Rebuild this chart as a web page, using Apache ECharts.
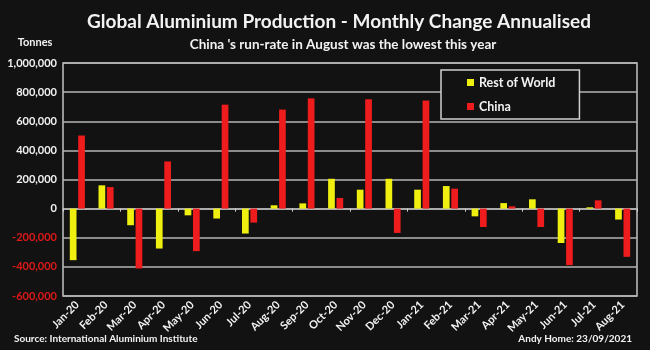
<!DOCTYPE html>
<html><head><meta charset="utf-8">
<script src="https://cdn.jsdelivr.net/npm/echarts@6/dist/echarts.min.js"></script>
<style>html,body{margin:0;padding:0;background:#121212}#c{width:650px;height:350px}</style>
</head><body><div id="c"></div>
<script>
const categories = ['Jan-20','Feb-20','Mar-20','Apr-20','May-20','Jun-20','Jul-20','Aug-20','Sep-20','Oct-20','Nov-20','Dec-20','Jan-21','Feb-21','Mar-21','Apr-21','May-21','Jun-21','Jul-21','Aug-21'];
const restOfWorld = [-354000, 160000, -114000, -274000, -46000, -68000, -171000, 23000, 36000, 205000, 130000, 205000, 130000, 155000, -53000, 38000, 64000, -236000, 9000, -75000];
const china = [502000, 148000, -411000, 324000, -292000, 714000, -96000, 680000, 757000, 73000, 751000, -167000, 742000, 137000, -126000, 16000, -126000, -388000, 57000, -331000];
const yMin = -600000, yMax = 1000000, yStep = 200000;
const titleText = 'Global Aluminium Production - Monthly Change Annualised';
const subtitleText = "China 's run-rate in August was the lowest this year";
const unitText = 'Tonnes';
const sourceText = 'Source: International Aluminium Institute';
const creditText = 'Andy Home: 23/09/2021';

const FF = 'Lato, "Open Sans", sans-serif';
const chart = echarts.init(document.getElementById('c'));
const fmt = v => {
  const s = Math.abs(v).toLocaleString('en-US');
  return v < 0 ? '{neg|-' + s + '}' : '{pos|' + s + '}';
};
chart.setOption({
  backgroundColor: '#121212',
  animation: false,
  textStyle: { fontFamily: FF },
  graphic: [
    { type: 'text', x: 339, y: 22, style: { text: titleText, fill: '#f2f2f2', font: 'bold 19px ' + FF, textAlign: 'center', textVerticalAlign: 'middle' } },
    { type: 'text', x: 343, y: 45, style: { text: subtitleText, fill: '#f2f2f2', font: 'bold 13.5px ' + FF, textAlign: 'center', textVerticalAlign: 'middle' } },
    { type: 'text', x: 35, y: 42, style: { text: unitText, fill: '#f2f2f2', font: 'bold 11px ' + FF, textAlign: 'center', textVerticalAlign: 'middle' } },
    { type: 'text', x: 14, y: 339, style: { text: sourceText, fill: '#f2f2f2', font: 'bold 10px ' + FF, textAlign: 'left', textVerticalAlign: 'middle' } },
    { type: 'text', x: 632, y: 339, style: { text: creditText, fill: '#f2f2f2', font: 'bold 10px ' + FF, textAlign: 'right', textVerticalAlign: 'middle' } }
  ],
  legend: {
    data: ['Rest of World', 'China'],
    orient: 'vertical', left: 441, top: 70,
    padding: [6, 24, 6, 26],
    itemWidth: 7, itemHeight: 7, itemGap: 11,
    icon: 'rect',
    backgroundColor: '#121212', borderColor: '#cfcfcf', borderWidth: 1.5,
    textStyle: { color: '#f2f2f2', fontSize: 12.5, fontWeight: 'bold', fontFamily: FF }
  },
  grid: { left: 63, right: 13, top: 63, bottom: 54, show: true, borderColor: '#c4c4c4', borderWidth: 1.5, backgroundColor: 'transparent' },
  xAxis: [
    { type: 'category', data: categories, position: 'bottom',
      axisLine: { onZero: true, lineStyle: { color: '#b8b8b8', width: 1.5 } },
      axisTick: { show: true, length: 3, lineStyle: { color: '#d0d0d0' } },
      axisLabel: { show: false }, splitLine: { show: false } },
    { type: 'category', data: categories, position: 'bottom',
      axisLine: { show: false, onZero: false }, axisTick: { show: false },
      axisLabel: { rotate: 45, color: '#f2f2f2', fontSize: 11, fontWeight: 'bold', fontFamily: FF, margin: 7, interval: 0 } }
  ],
  yAxis: {
    type: 'value', min: yMin, max: yMax, interval: yStep,
    axisLine: { show: false }, axisTick: { show: false },
    splitLine: { lineStyle: { color: '#b4b4b4', width: 1.5 } },
    axisLabel: { margin: 6, formatter: fmt, rich: {
      pos: { color: '#f2f2f2', fontSize: 11, fontWeight: 'bold', fontFamily: FF },
      neg: { color: '#e01818', fontSize: 11, fontWeight: 'bold', fontFamily: FF } } }
  },
  series: [
    { name: 'Rest of World', type: 'bar', data: restOfWorld, barWidth: 6.7, barGap: '25%', itemStyle: { color: '#f0f010' } },
    { name: 'China', type: 'bar', data: china, barWidth: 6.7, barGap: '25%', itemStyle: { color: '#ee1c1c' } }
  ]
});
</script></body></html>
